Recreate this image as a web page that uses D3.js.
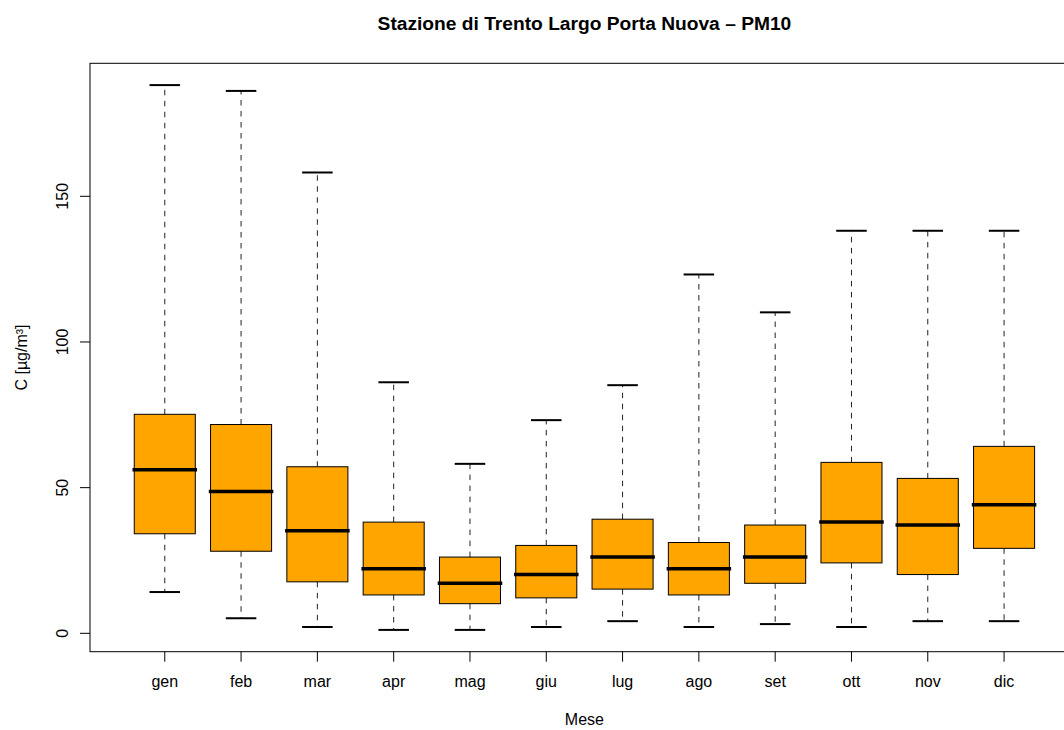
<!DOCTYPE html>
<html>
<head>
<meta charset="utf-8">
<script src="https://cdn.jsdelivr.net/npm/d3@7"></script>
<style>
  html, body { margin: 0; padding: 0; background: #fff; }
  svg { display: block; font-family: "Liberation Sans", Arial, Helvetica, sans-serif; }
</style>
</head>
<body>
<svg id="chart" width="1064" height="730"></svg>
<script>
// Monthly PM10 distribution (µg/m³): whisker ends, quartiles and medians
const months = ["gen", "feb", "mar", "apr", "mag", "giu", "lug", "ago", "set", "ott", "nov", "dic"];
const whiskerLow  = [14, 5, 2, 1, 1, 2, 4, 2, 3, 2, 4, 4];
const quartile1   = [34, 28, 17.5, 13, 10, 12, 15, 13, 17, 24, 20, 29];
const medians     = [56, 48.5, 35, 22, 17, 20, 26, 22, 26, 38, 37, 44];
const quartile3   = [75, 71.5, 57, 38, 26, 30, 39, 31, 37, 58.5, 53, 64];
const whiskerHigh = [188, 186, 158, 86, 58, 73, 85, 123, 110, 138, 138, 138];
const yTicks = [0, 50, 100, 150];

const title = "Stazione di Trento Largo Porta Nuova \u2013 PM10";
const xTitle = "Mese";
const yTitle = "C [\u00b5g/m\u00b3]";

const boxes = months.map((m, i) => ({
  month: m,
  lo: whiskerLow[i], q1: quartile1[i], med: medians[i], q3: quartile3[i], hi: whiskerHigh[i]
}));

const svg = d3.select("#chart");

// Plot region (right edge runs past the window, as in the original device)
const plot = { left: 90, top: 63.3, bottom: 651.7 };
const unit = 76.3;                       // width of one category slot
const plotRight = plot.left + 12.96 * unit;
const fontSize = 16;

// y: data range padded by 4% on each side
const yMin = d3.min(whiskerLow), yMax = d3.max(whiskerHigh);
const pad = 0.04 * (yMax - yMin);
const y = d3.scaleLinear().domain([yMin - pad, yMax + pad]).range([plot.bottom, plot.top]);

// x: band scale with boxes 0.8 of the slot width
const x = d3.scaleBand()
  .domain(months)
  .range([plot.left + 0.48 * unit, plot.left + 12.48 * unit])
  .paddingInner(0.2)
  .paddingOuter(0.1);
const bw = x.bandwidth();
const cx = m => x(m) + bw / 2;

// Title
svg.append("text")
  .attr("x", (plot.left + plotRight) / 2)
  .attr("y", 30)
  .attr("text-anchor", "middle")
  .attr("font-weight", "bold")
  .attr("font-size", 19.2)
  .text(title);

const g = svg.append("g");

// Whiskers (dashed)
g.append("g").selectAll("line").data(boxes).join("line")
  .attr("x1", d => cx(d.month)).attr("x2", d => cx(d.month))
  .attr("y1", d => y(d.q3)).attr("y2", d => y(d.hi))
  .attr("stroke", "#222").attr("stroke-width", 1).attr("stroke-dasharray", "5.5,5.5");
g.append("g").selectAll("line").data(boxes).join("line")
  .attr("x1", d => cx(d.month)).attr("x2", d => cx(d.month))
  .attr("y1", d => y(d.q1)).attr("y2", d => y(d.lo))
  .attr("stroke", "#222").attr("stroke-width", 1).attr("stroke-dasharray", "5.5,5.5");

// Staples
const staple = bw / 4;
["hi", "lo"].forEach(k => {
  g.append("g").selectAll("line").data(boxes).join("line")
    .attr("x1", d => cx(d.month) - staple).attr("x2", d => cx(d.month) + staple)
    .attr("y1", d => y(d[k])).attr("y2", d => y(d[k]))
    .attr("stroke", "#000").attr("stroke-width", 2);
});

// Boxes
g.append("g").selectAll("rect").data(boxes).join("rect")
  .attr("x", d => x(d.month)).attr("width", bw)
  .attr("y", d => y(d.q3)).attr("height", d => y(d.q1) - y(d.q3))
  .attr("fill", "#FFA500").attr("stroke", "#000").attr("stroke-width", 1);

// Medians
g.append("g").selectAll("line").data(boxes).join("line")
  .attr("x1", d => x(d.month)).attr("x2", d => x(d.month) + bw)
  .attr("y1", d => y(d.med)).attr("y2", d => y(d.med))
  .attr("stroke", "#000").attr("stroke-width", 3.5).attr("stroke-linecap", "square");

// Frame
svg.append("rect")
  .attr("x", plot.left).attr("y", plot.top)
  .attr("width", plotRight - plot.left).attr("height", plot.bottom - plot.top)
  .attr("fill", "none").attr("stroke", "#000").attr("stroke-width", 1);

// Y axis
const yAxis = svg.append("g")
  .attr("transform", `translate(${plot.left},0)`)
  .call(d3.axisLeft(y).tickValues(yTicks).tickSize(10).tickFormat(d3.format("d")));
yAxis.select(".domain").remove();
yAxis.selectAll("line").attr("stroke", "#000");
yAxis.selectAll("text")
  .attr("font-size", fontSize).attr("font-family", "Liberation Sans, Arial, sans-serif")
  .attr("fill", "#000")
  .attr("x", null).attr("dy", null)
  .attr("text-anchor", "middle")
  .attr("transform", "translate(-22,0) rotate(-90)");

// X axis
const xAxis = svg.append("g")
  .attr("transform", `translate(0,${plot.bottom})`)
  .call(d3.axisBottom(x).tickSize(10).tickPadding(0));
xAxis.select(".domain").remove();
xAxis.selectAll("line").attr("stroke", "#000");
xAxis.selectAll("text")
  .attr("font-size", fontSize).attr("font-family", "Liberation Sans, Arial, sans-serif")
  .attr("fill", "#000")
  .attr("dy", null).attr("y", 35);

// Axis titles
svg.append("text")
  .attr("x", (plot.left + plotRight) / 2).attr("y", 725)
  .attr("text-anchor", "middle").attr("font-size", fontSize)
  .text(xTitle);
svg.append("text")
  .attr("transform", `translate(27,${(plot.top + plot.bottom) / 2}) rotate(-90)`)
  .attr("text-anchor", "middle").attr("font-size", fontSize)
  .text(yTitle);
</script>
</body>
</html>
